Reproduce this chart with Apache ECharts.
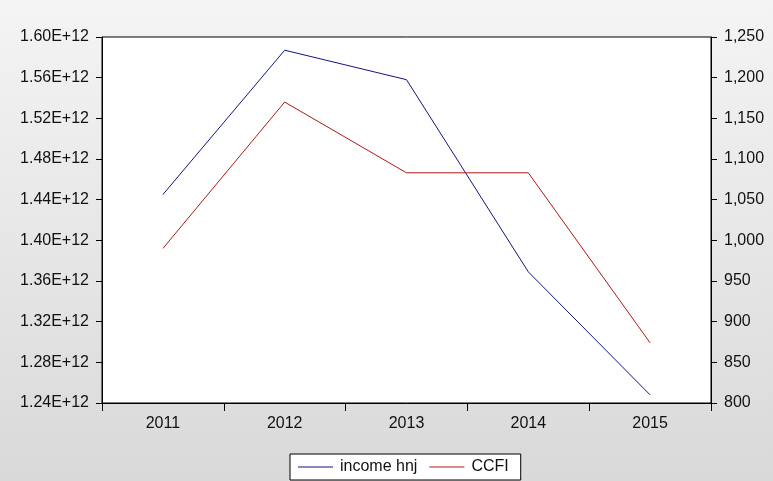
<!DOCTYPE html>
<html>
<head>
<meta charset="utf-8">
<script src="https://cdn.jsdelivr.net/npm/echarts@6/dist/echarts.min.js"></script>
<style>
html,body{margin:0;padding:0;width:773px;height:481px;overflow:hidden;background:linear-gradient(#f4f4f4,#d9d9d9);}
#c{width:773px;height:481px;}
</style>
</head>
<body>
<div id="c"></div>
<script>
const years = ['2011','2012','2013','2014','2015'];
const incomeHnj = [1.445e12, 1.587e12, 1.558e12, 1.369e12, 1.248e12];
const ccfi = [990, 1170, 1083, 1083, 874];

const chart = echarts.init(document.getElementById('c'));
const font = 'Liberation Sans, Arial, sans-serif';
chart.setOption({
  backgroundColor: 'transparent',
  animation: false,
  grid: {left: 102, right: 62, top: 37, bottom: 78, show: true, backgroundColor: '#fff', borderColor: '#000', borderWidth: 1},
  legend: {
    data: ['income hnj', 'CCFI'],
    bottom: 1,
    left: 290,
    icon: 'rect',
    itemWidth: 35,
    itemHeight: 1,
    itemGap: 12,
    backgroundColor: '#fff',
    borderColor: '#000',
    borderWidth: 1,
    borderRadius: 0,
    padding: [5, 12, 5, 8],
    textStyle: {fontFamily: font, fontSize: 16, color: '#111', padding: [0, 0, 0, 2]}
  },
  xAxis: {
    type: 'category',
    data: years,
    boundaryGap: true,
    axisLine: {lineStyle: {color: '#000', width: 1}},
    axisTick: {show: true, length: 8, lineStyle: {color: '#000'}},
    axisLabel: {fontFamily: font, fontSize: 16, color: '#111', margin: 13},
    splitLine: {show: false}
  },
  yAxis: [
    {
      type: 'value', position: 'left',
      min: 1.24e12, max: 1.60e12, interval: 0.04e12,
      axisLine: {show: true, lineStyle: {color: '#000'}},
      axisTick: {show: true, length: 6, lineStyle: {color: '#000'}},
      axisLabel: {fontFamily: font, fontSize: 16, color: '#111', margin: 13,
        formatter: v => (v / 1e12).toFixed(2) + 'E+12'},
      splitLine: {show: false}
    },
    {
      type: 'value', position: 'right',
      min: 800, max: 1250, interval: 50,
      axisLine: {show: true, lineStyle: {color: '#000'}},
      axisTick: {show: true, length: 6, lineStyle: {color: '#000'}},
      axisLabel: {fontFamily: font, fontSize: 16, color: '#111', margin: 13,
        formatter: v => v.toLocaleString('en-US')},
      splitLine: {show: false}
    }
  ],
  series: [
    {name: 'income hnj', type: 'line', yAxisIndex: 0, data: incomeHnj, symbol: 'none',
      lineStyle: {color: '#14147e', width: 1}, itemStyle: {color: '#14147e'}},
    {name: 'CCFI', type: 'line', yAxisIndex: 1, data: ccfi, symbol: 'none',
      lineStyle: {color: '#b01818', width: 1}, itemStyle: {color: '#b01818'}}
  ]
});
</script>
</body>
</html>
